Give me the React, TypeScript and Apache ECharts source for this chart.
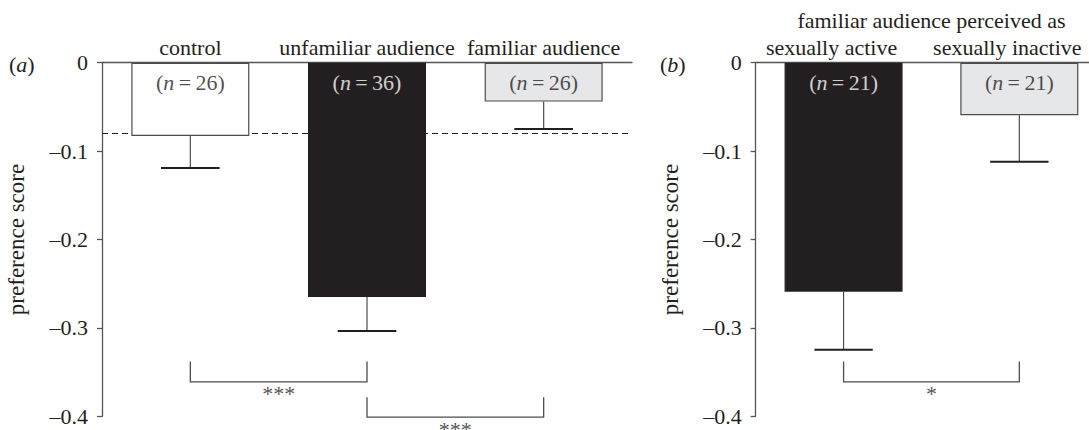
import React, { useEffect, useRef } from 'react';
import * as echarts from 'echarts';

// ---- data: panel (a)
const catsA = ['control', 'unfamiliar audience', 'familiar audience'];
const meansA = [-0.083, -0.265, -0.044];
const semA = [0.036, 0.0385, 0.031];
const nA = [26, 36, 26];
const sigA = [
  [0, 1, -0.338, -0.361],
  [1, 2, -0.3785, -0.401],
];
const sigLabelsA = ['***', '***'];

// ---- data: panel (b)
const titleB = 'familiar audience perceived as';
const catsB = ['sexually active', 'sexually inactive'];
const meansB = [-0.259, -0.0595];
const semB = [0.0657, 0.0525];
const nB = [21, 21];
const sigB = [[0, 1, -0.338, -0.361]];
const sigLabelsB = ['*'];

const yMin = -0.4;
const yMax = 0;
const yInterval = 0.1;

// ---- styles
const FONT = 'Liberation Serif';
const FS = 22;
const TXT = '#231f20';
const AXIS = '#555555';
const fillA = ['#ffffff', '#231f20', '#e6e7e8'];
const fillB = ['#231f20', '#e6e7e8'];
const borderA = ['#4d4d4d', '#231f20', '#4d4d4d'];
const borderB = ['#231f20', '#4d4d4d'];
const nColorA = [TXT, '#ffffff', TXT];
const nColorB = ['#ffffff', TXT];

const yLabel = (v: number) => (Math.abs(v) < 1e-9 ? '0' : '\u2013' + Math.abs(v).toFixed(1));

function yAxisOpt(gridIndex: number) {
  return {
    type: 'value',
    gridIndex,
    min: yMin,
    max: yMax,
    interval: yInterval,
    name: 'preference score',
    nameLocation: 'middle',
    nameGap: 74,
    nameTextStyle: { fontSize: 23, fontFamily: FONT, color: TXT },
    axisLine: { show: true, lineStyle: { color: AXIS, width: 1.3 } },
    axisTick: { show: true, length: 5, lineStyle: { color: AXIS, width: 1.3 } },
    splitLine: { show: false },
    axisLabel: { formatter: yLabel, margin: 14, fontSize: FS, fontFamily: FONT, color: TXT },
  };
}

function xAxisOpt(gridIndex: number, cats: string[], name?: string, pad?: number[]) {
  return {
    type: 'category',
    gridIndex,
    data: cats,
    position: 'top',
    boundaryGap: true,
    name: name || '',
    nameLocation: 'middle',
    nameGap: 30,
    nameTextStyle: { fontSize: FS, fontFamily: FONT, color: TXT },
    axisLine: { show: true, onZero: false, lineStyle: { color: AXIS, width: 1.3 } },
    axisTick: { show: false },
    splitLine: { show: false },
    axisLabel: {
      interval: 0,
      margin: 4,
      fontSize: FS,
      fontFamily: FONT,
      color: TXT,
      padding: pad || [0, 0, 0, 0],
    },
  };
}

function panelSeries(
  idx: number,
  means: number[],
  sems: number[],
  ns: number[],
  fills: string[],
  borders: string[],
  nColors: string[],
  sig: number[][],
  sigLabels: string[],
  dashed: number | null
) {
  const bar: any = {
    type: 'bar',
    xAxisIndex: idx,
    yAxisIndex: idx,
    barWidth: 118,
    z: 2,
    data: means.map((m, i) => ({
      value: m,
      itemStyle: { color: fills[i], borderColor: borders[i], borderWidth: 1.2 },
    })),
  };
  if (dashed !== null) {
    bar.markLine = {
      silent: true,
      z: 1,
      symbol: 'none',
      label: { show: false },
      lineStyle: { type: [6, 4], color: TXT, width: 1.1 },
      data: [{ yAxis: dashed }],
    };
  }
  const err = {
    type: 'custom',
    xAxisIndex: idx,
    yAxisIndex: idx,
    z: 3,
    clip: false,
    encode: { x: 0, y: 1 },
    data: means.map((m, i) => [i, m, sems[i]]),
    renderItem: (params: any, api: any) => {
      const x = api.value(0);
      const m = api.value(1);
      const e = api.value(2);
      const top = api.coord([x, m]);
      const bot = api.coord([x, m - e]);
      const half = api.size([1, 0])[0] * 0.166;
      return {
        type: 'group',
        children: [
          {
            type: 'line',
            shape: { x1: top[0], y1: top[1], x2: bot[0], y2: bot[1] },
            style: { stroke: '#4d4d4d', lineWidth: 1.2 },
          },
          {
            type: 'line',
            shape: { x1: bot[0] - half, y1: bot[1], x2: bot[0] + half, y2: bot[1] },
            style: { stroke: TXT, lineWidth: 2 },
          },
        ],
      };
    },
  };
  const nLabels = {
    type: 'scatter',
    xAxisIndex: idx,
    yAxisIndex: idx,
    z: 5,
    symbolSize: 1,
    itemStyle: { color: 'transparent' },
    silent: true,
    data: ns.map((n, i) => ({
      value: [i, 0],
      label: {
        show: true,
        position: 'bottom',
        distance: 8,
        formatter: `({i|n}\u2009=\u2009${n})`,
        fontSize: FS,
        fontFamily: FONT,
        color: nColors[i],
        rich: { i: { fontStyle: 'italic', fontSize: FS, fontFamily: FONT, color: nColors[i] } },
      },
    })),
  };
  const brackets = {
    type: 'custom',
    xAxisIndex: idx,
    yAxisIndex: idx,
    z: 3,
    clip: false,
    encode: { x: 0, y: 2 },
    data: sig,
    renderItem: (params: any, api: any) => {
      const a = api.coord([api.value(0), api.value(2)]);
      const b = api.coord([api.value(1), api.value(3)]);
      const x1 = a[0];
      const x2 = b[0];
      const yT = a[1];
      const yB = b[1];
      return {
        type: 'group',
        children: [
          {
            type: 'polyline',
            shape: { points: [[x1, yT], [x1, yB], [x2, yB], [x2, yT]] },
            style: { stroke: '#4d4d4d', lineWidth: 1.3, fill: 'none' },
          },
          {
            type: 'text',
            style: {
              text: sigLabels[params.dataIndex],
              x: (x1 + x2) / 2,
              y: yB + 1,
              align: 'center',
              verticalAlign: 'top',
              fontSize: FS,
              fontFamily: FONT,
              fill: '#555555',
            },
          },
        ],
      };
    },
  };
  return [bar, err, nLabels, brackets];
}

export default function App() {
  const ref = useRef<HTMLDivElement>(null);
  useEffect(() => {
    if (!ref.current) return;
    const chart = echarts.init(ref.current, null, { renderer: 'svg' });
    const titleStyle = {
      fontSize: FS,
      fontFamily: FONT,
      fontWeight: 'normal',
      color: TXT,
      rich: { i: { fontStyle: 'italic', fontSize: FS, fontFamily: FONT, color: TXT } },
    };
    chart.setOption({
      animation: false,
      backgroundColor: '#ffffff',
      title: [
        { text: '({i|a})', left: 9, top: 53, padding: 0, textStyle: titleStyle },
        { text: '({i|b})', left: 660, top: 53, padding: 0, textStyle: titleStyle },
      ],
      grid: [
        { left: 102, top: 62.7, width: 530, height: 353.6, containLabel: false, outerBoundsMode: 'none' },
        { left: 755.7, top: 62.7, width: 351.5, height: 353.6, containLabel: false, outerBoundsMode: 'none' },
      ],
      xAxis: [xAxisOpt(0, catsA), xAxisOpt(1, catsB, titleB, [0, 24, 0, 0])],
      yAxis: [yAxisOpt(0), yAxisOpt(1)],
      series: [
        ...panelSeries(0, meansA, semA, nA, fillA, borderA, nColorA, sigA, sigLabelsA, meansA[0]),
        ...panelSeries(1, meansB, semB, nB, fillB, borderB, nColorB, sigB, sigLabelsB, null),
      ],
    });
    return () => chart.dispose();
  }, []);
  return (
    <div
      ref={ref}
      style={{ position: 'absolute', left: 0, top: 0, width: 1089, height: 430, background: '#fff' }}
    />
  );
}
